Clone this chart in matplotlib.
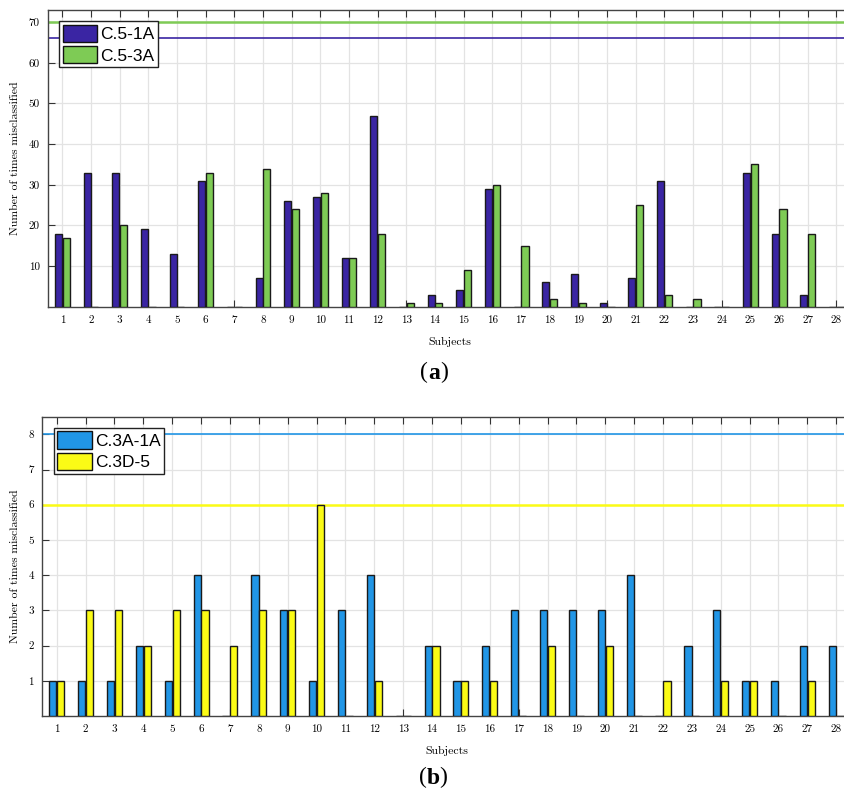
import numpy as np
import matplotlib
matplotlib.use("Agg")
import matplotlib.pyplot as plt
from matplotlib.patches import Patch

# data
subjects = np.arange(1, 29)

c51a = [18, 33, 33, 19, 13, 31, 0, 7, 26, 27, 12, 47, 0, 3,
        4, 29, 0, 6, 8, 1, 7, 31, 0, 0, 33, 18, 3, 0]
c53a = [17, 0, 20, 0, 0, 33, 0, 34, 24, 28, 12, 18, 1, 1,
        9, 30, 15, 2, 1, 0, 25, 3, 2, 0, 35, 24, 18, 0]
total_a = [66, 70]  # horizontal reference lines (C.5-1A, C.5-3A)

c3a1a = [1, 1, 1, 2, 1, 4, 0, 4, 3, 1, 3, 4, 0, 2,
         1, 2, 3, 3, 3, 3, 4, 0, 2, 3, 1, 1, 2, 2]
c3d5 = [1, 3, 3, 2, 3, 3, 2, 3, 3, 6, 0, 1, 0, 2,
        1, 1, 0, 2, 0, 2, 0, 1, 0, 1, 1, 0, 1, 0]
total_b = [8, 6]  # horizontal reference lines (C.3A-1A, C.3D-5)

labels_a = ["C.5-1A", "C.5-3A"]
labels_b = ["C.3A-1A", "C.3D-5"]
colors_a = ["#3a25a3", "#7ecb55"]
colors_b = ["#2196e6", "#fbfb16"]

W, H = 844, 798
fig = plt.figure(figsize=(W / 100, H / 100), dpi=100)

tick_font = dict(family='cmr10', size=8)


def draw_panel(ax, s1, s2, totals, labels, colors, ymax, yticks):
    w = 0.25
    off = 0.135
    ax.bar(subjects - off, s1, width=w, color=colors[0], edgecolor='#1a1a1a',
           linewidth=1.0, zorder=3)
    ax.bar(subjects + off, s2, width=w, color=colors[1], edgecolor='#1a1a1a',
           linewidth=1.0, zorder=3)
    ax.axhline(totals[0], color=colors[0], lw=1.2, zorder=2)
    ax.axhline(totals[1], color=colors[1], lw=1.8, zorder=2)

    ax.set_xlim(0.5, 28.5)
    ax.set_ylim(0, ymax)
    ax.set_xticks(subjects)
    ax.set_yticks(yticks)
    ax.set_xticklabels([str(s) for s in subjects], **tick_font)
    ax.set_yticklabels([str(t) for t in yticks], **tick_font)
    ax.tick_params(direction='in', length=5, width=0.8, color='#333333',
                   top=True, right=False, pad=6)
    ax.grid(True, color='#e3e3e3', lw=0.9, zorder=0)
    ax.set_axisbelow(True)
    for side in ['left', 'bottom', 'top']:
        ax.spines[side].set_color('#444444')
        ax.spines[side].set_linewidth(1.0)
    ax.spines['right'].set_visible(False)

    ax.set_xlabel('Subjects', family='cmr10', size=8.5, labelpad=9)
    ax.set_ylabel('Number of times misclassified', family='cmr10', size=8.5,
                  labelpad=6)

    handles = [Patch(facecolor=c, edgecolor='#111111', lw=1.0) for c in colors]
    leg = ax.legend(handles, labels, loc='upper left', fancybox=False,
                    framealpha=1, edgecolor='#222222',
                    prop=dict(family='Liberation Sans', size=12.5),
                    handlelength=2.0, handleheight=1.15, handletextpad=0.17,
                    labelspacing=0.22, borderpad=0.2, borderaxespad=0.65)
    leg.get_frame().set_linewidth(1.0)
    leg.set_zorder(5)


ax1 = fig.add_axes([48 / W, 1 - 306.7 / H, 28 * 28.67 / W, 296.7 / H])
draw_panel(ax1, c51a, c53a, total_a, labels_a, colors_a, 73,
           [10, 20, 30, 40, 50, 60, 70])

ax2 = fig.add_axes([42.3 / W, 1 - 716 / H, 28 * 28.87 / W, 299.3 / H])
draw_panel(ax2, c3a1a, c3d5, total_b, labels_b, colors_b, 8.5,
           [1, 2, 3, 4, 5, 6, 7, 8])


def panel_tag(x, y, letter):
    # regular parentheses round a bold letter
    fx, fy = x / W, 1 - y / H
    kw = dict(ha='center', va='center', size=17, family='Liberation Serif',
              textcoords='offset pixels', xycoords='figure fraction')
    fig.axes[0].annotate('(', (fx, fy), xytext=(-10, 1), **kw)
    fig.axes[0].annotate(letter, (fx, fy), xytext=(0, 0), weight='bold', **kw)
    fig.axes[0].annotate(')', (fx, fy), xytext=(10, 1), **kw)


panel_tag(434, 373, 'a')
panel_tag(433, 778, 'b')

fig.savefig('out.png', dpi=100)
